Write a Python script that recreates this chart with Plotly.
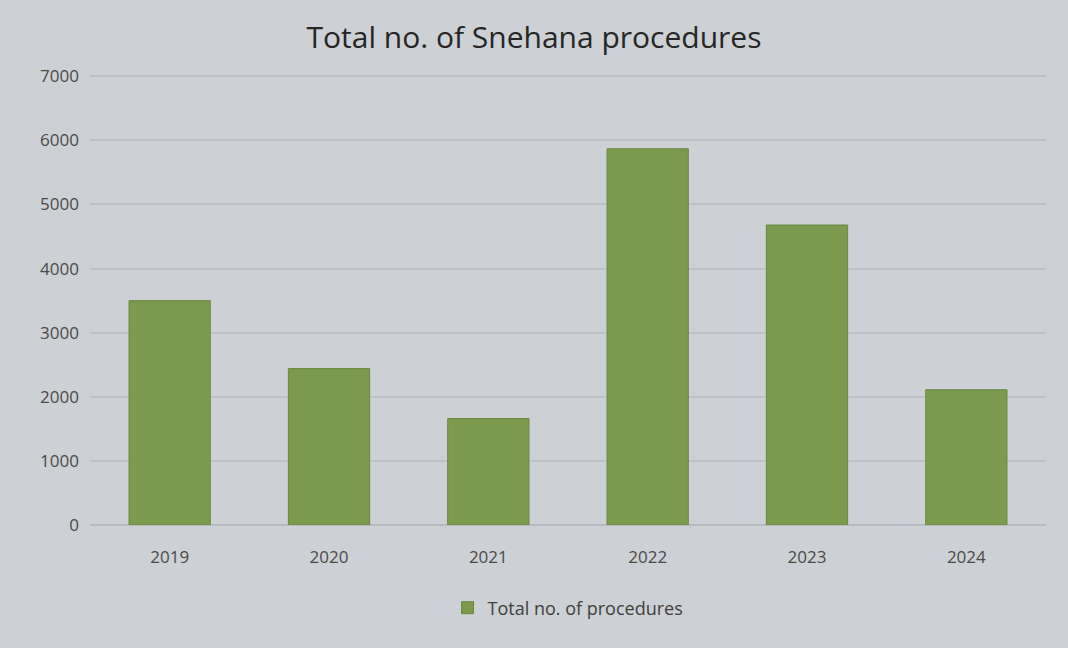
import plotly.graph_objects as go

years = ["2019", "2020", "2021", "2022", "2023", "2024"]
procedures = [3500, 2440, 1660, 5870, 4680, 2110]
y_ticks = [0, 1000, 2000, 3000, 4000, 5000, 6000, 7000]

bg = "#cdd0d4"
font_family = "Open Sans, Liberation Sans, sans-serif"

fig = go.Figure()
fig.add_trace(go.Bar(
    x=years, y=procedures,
    name="Total no. of procedures",
    marker=dict(color="#7b9a4e", line=dict(color="#6a8841", width=1)),
    width=0.51,
))

fig.update_layout(
    width=1068, height=648,
    paper_bgcolor=bg, plot_bgcolor=bg,
    margin=dict(l=90, r=22, t=75, b=123),
    title=dict(text="Total no. of Snehana procedures", x=0.5, xanchor="center",
               y=1 - 37 / 648, yanchor="middle",
               font=dict(family=font_family, size=30, color="#262626")),
    font=dict(family=font_family, color="#555555", size=17),
    showlegend=True,
    legend=dict(orientation="h", x=0.5, xanchor="center", y=-(608 - 525) / 450, yanchor="middle",
                font=dict(size=18, color="#404040"), bgcolor="rgba(0,0,0,0)",
                itemwidth=30),
    bargap=0.49,
)
fig.update_yaxes(range=[0, 7020], tickvals=y_ticks, showgrid=True,
                 gridcolor="#bec1c5", gridwidth=1.5, zeroline=True,
                 zerolinecolor="#b8bbbf", zerolinewidth=1.5,
                 ticks="", ticklabelstandoff=10,
                 tickfont=dict(size=17, color="#4a4a4a"))
fig.update_xaxes(showgrid=False, showline=False, ticks="", ticklabelstandoff=20,
                 tickfont=dict(size=17, color="#4a4a4a"))

fig.write_html("out.html", config={"displayModeBar": False},
               post_script="document.body.style.margin='0';")
